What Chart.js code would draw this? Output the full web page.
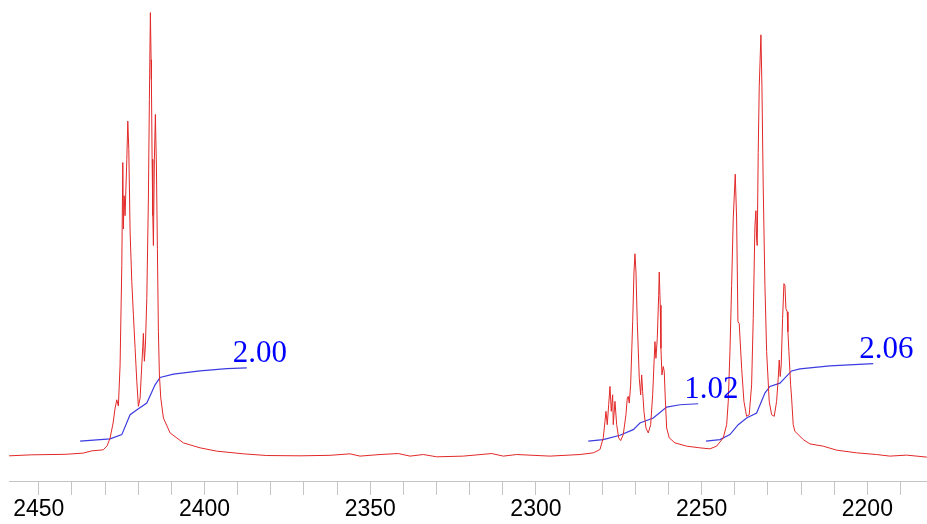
<!DOCTYPE html>
<html>
<head>
<meta charset="utf-8">
<script src="https://cdn.jsdelivr.net/npm/chart.js@4.4.1/dist/chart.umd.min.js"></script>
<style>
  html, body { margin: 0; padding: 0; background: #fff; }
  #wrap { width: 927px; height: 524px; }
</style>
</head>
<body>
<div id="wrap"><canvas id="spek"></canvas></div>
<script>
// spectrum (Hz, intensity)
const specHz = [
  2458.96, 2452.11, 2442.07, 2436.64, 2434.01, 2430.60, 2429.40, 2428.49, 2427.59, 2426.98,
  2426.47, 2425.99, 2425.48, 2424.96, 2424.66, 2424.48, 2424.27, 2423.97, 2423.45, 2423.15,
  2422.85, 2422.46, 2421.95, 2421.46, 2420.95, 2420.44, 2419.96, 2419.44, 2418.93, 2418.63,
  2418.45, 2418.15, 2417.84, 2417.42, 2416.94, 2416.64, 2416.34, 2416.12, 2416.03, 2415.82,
  2415.61, 2415.43, 2415.13, 2414.83, 2414.52, 2414.22, 2413.92, 2413.62, 2413.20, 2412.41,
  2410.39, 2406.38, 2401.34, 2396.30, 2388.28, 2381.22, 2371.18, 2362.13, 2356.09, 2353.08,
  2347.04, 2341.52, 2337.99, 2333.98, 2329.94, 2321.92, 2313.35, 2309.85, 2305.81, 2295.76,
  2286.71, 2282.70, 2280.68, 2279.68, 2279.17, 2278.87, 2278.48, 2278.05, 2277.66, 2277.27,
  2276.85, 2276.67, 2276.15, 2275.64, 2275.04, 2274.43, 2273.65, 2272.84, 2272.44, 2272.14,
  2271.84, 2271.42, 2270.81, 2270.42, 2270.12, 2269.82, 2269.43, 2268.82, 2268.40, 2268.10,
  2267.80, 2267.41, 2266.80, 2266.11, 2265.38, 2264.78, 2264.39, 2264.09, 2263.79, 2263.39,
  2262.97, 2262.79, 2262.49, 2262.28, 2261.98, 2261.58, 2261.28, 2260.98, 2260.56, 2259.77,
  2258.05, 2254.52, 2250.51, 2247.50, 2245.48, 2243.48, 2242.45, 2241.97, 2241.46, 2240.95,
  2240.47, 2239.86, 2239.44, 2239.05, 2238.66, 2237.93, 2237.24, 2236.43, 2235.64, 2234.92,
  2234.43, 2233.92, 2233.62, 2233.41, 2233.23, 2232.93, 2232.62, 2232.11, 2231.81, 2231.42,
  2230.91, 2230.39, 2229.61, 2228.88, 2228.10, 2227.38, 2226.89, 2226.59, 2226.29, 2225.99,
  2225.57, 2225.17, 2224.87, 2224.57, 2224.18, 2223.97, 2223.67, 2223.15, 2222.85, 2222.37,
  2221.86, 2219.35, 2217.33, 2213.32, 2209.28, 2203.24, 2197.21, 2193.20, 2188.16, 2182.04
];
const specInt = [
  0, 1, 1.5, 2.7, 5, 6, 10, 18, 33, 48,
  56.3, 50, 91.3, 191.3, 294.7, 228, 261.3, 241.3, 298, 336.3,
  308, 225, 175, 141.3, 108, 75, 49.7, 58, 91.3, 110,
  123, 95, 111.3, 158, 258, 358, 445.3, 398, 378, 298,
  241.3, 211.3, 298, 343, 291.3, 208, 124.7, 81.3, 58, 38,
  23, 13, 8, 4.7, 2, 0.3, 0, 0.5, 2, -0.3,
  1.3, 2.3, -0.3, 1.3, -1, -0.3, 2.3, -0.3, 1.3, -0.3,
  1.3, 3, 6.3, 18, 34.7, 44.7, 31.3, 51.3, 69.7, 44.7,
  61.3, 31.3, 54.7, 31.3, 18, 15.3, 21.3, 41.3, 58, 59.7,
  53, 71.3, 134.7, 184.7, 203, 184.7, 134.7, 78, 61.3, 81.3,
  64.7, 44.7, 28, 23, 31.3, 61.3, 91.3, 114.7, 98, 118,
  161.3, 184.7, 151.3, 108, 81.3, 89.7, 84.7, 58, 28, 18,
  13, 9.7, 8, 7, 9.7, 18, 31.3, 54.7, 104.7, 171.3,
  238, 283, 238, 134.7, 133, 88, 54.7, 39.7, 41.3, 71.3,
  138, 231.3, 246.3, 218, 211.3, 304.7, 371.3, 423, 371.3, 271.3,
  171.3, 104.7, 54.7, 41.3, 39.7, 54.7, 78, 96.3, 79.7, 91.3,
  138, 173, 171.3, 148, 144.7, 124.7, 104.7, 71.3, 58, 31.3,
  24.7, 16.3, 12, 9.7, 5.7, 3, 1.3, -0.3, 0.7, -1.3
];

// integral curves
const int1Hz = [2437.54, 2428.49, 2424.96, 2422.46, 2419.96, 2417.42, 2414.92, 2413.41, 2409.40, 2401.34, 2393.29, 2387.25];
const int1Val = [14.7, 17, 21.3, 41.3, 47.3, 53, 71.3, 78.7, 82, 85.3, 87.7, 88.3];
const int2Hz = [2284.21, 2279.68, 2274.65, 2270.63, 2268.61, 2264.60, 2260.56, 2256.55, 2251.03];
const int2Val = [14.7, 16.3, 20.7, 26.3, 33, 38, 49, 51.3, 52.3];
const int3Hz = [2248.70, 2244.48, 2241.46, 2238.96, 2236.43, 2233.41, 2230.91, 2229.40, 2226.38, 2222.85, 2220.35, 2211.30, 2198.23];
const int3Val = [14.7, 16.3, 21.3, 31.3, 38, 43, 63, 69.7, 73, 85.3, 87.3, 90.3, 92.7];
const integralLabels = ["2.00", "1.02", "2.06"];

function toPts(xs, ys) {
  return xs.map((x, i) => ({ x: x, y: ys[i] }));
}

// draws the integral values next to the end of each curve
const integralText = {
  id: "integralText",
  afterDatasetsDraw(chart) {
    const ctx = chart.ctx;
    ctx.save();
    ctx.font = "31px 'Liberation Serif', 'DejaVu Serif', serif";
    ctx.fillStyle = "#0000ff";
    ctx.textAlign = "left";
    ctx.textBaseline = "alphabetic";
    for (let i = 0; i < integralLabels.length; i++) {
      const pts = chart.data.datasets[i + 1].data;
      const last = pts[pts.length - 1];
      const px = chart.scales.x.getPixelForValue(last.x);
      const py = chart.scales.y.getPixelForValue(last.y);
      ctx.fillText(integralLabels[i], px - 14, py - 6);
    }
    ctx.restore();
  },
};

new Chart(document.getElementById("spek"), {
  type: "line",
  data: {
    datasets: [
      { data: toPts(specHz, specInt), borderColor: "rgb(226,40,40)", borderWidth: 1 },
      { data: toPts(int1Hz, int1Val), borderColor: "rgb(60,60,225)", borderWidth: 1.2 },
      { data: toPts(int2Hz, int2Val), borderColor: "rgb(60,60,225)", borderWidth: 1.2 },
      { data: toPts(int3Hz, int3Val), borderColor: "rgb(60,60,225)", borderWidth: 1.2 },
    ],
  },
  options: {
    responsive: true,
    maintainAspectRatio: false,
    animation: false,
    layout: { padding: { left: 9, right: 0, top: 0, bottom: 0 } },
    elements: { point: { radius: 0 }, line: { tension: 0, fill: false } },
    plugins: { legend: { display: false }, tooltip: { enabled: false } },
    scales: {
      x: {
        type: "linear",
        reverse: true,
        min: 2182,
        max: 2459,
        grid: {
          drawOnChartArea: false,
          drawTicks: true,
          tickLength: 14,
          tickColor: "#c4c4c4",
        },
        border: { color: "#c4c4c4", width: 1 },
        ticks: {
          stepSize: 10,
          includeBounds: false,
          autoSkip: false,
          maxRotation: 0,
          padding: 3,
          color: "#000",
          font: { family: "'Liberation Sans', Arial, sans-serif", size: 23, lineHeight: 1 },
          callback: (v) => (Math.round(v) % 50 === 0 ? String(Math.round(v)) : ""),
        },
      },
      y: {
        display: false,
        min: -25.3,
        max: 458,
      },
    },
  },
  plugins: [integralText],
});
</script>
</body>
</html>
